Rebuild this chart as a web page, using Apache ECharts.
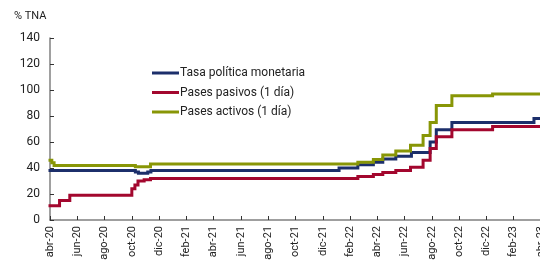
<!DOCTYPE html>
<html>
<head>
<meta charset="utf-8">
<script src="https://cdn.jsdelivr.net/npm/echarts@6/dist/echarts.min.js"></script>
<style>
  html, body { margin: 0; padding: 0; background: #fff; }
  #chart { width: 540px; height: 266px; }
</style>
</head>
<body>
<div id="chart"></div>
<script>
// meses para las etiquetas del eje x (abr-20 ... abr-23)
const meses = ['ene', 'feb', 'mar', 'abr', 'may', 'jun', 'jul', 'ago', 'sep', 'oct', 'nov', 'dic']
const yTicks = [0, 20, 40, 60, 80, 100, 120, 140]

// fechas de cambio de tasa y valor vigente desde esa fecha (% TNA)
const tpmFechas = ['2020-04-01', '2020-10-09', '2020-10-16', '2020-11-06', '2020-11-13',
  '2022-01-07', '2022-02-17', '2022-03-23', '2022-04-13', '2022-05-12', '2022-06-16',
  '2022-07-28', '2022-08-11', '2022-09-15', '2023-03-16', '2023-04-01']
const tpmValores = [38, 37, 36, 37, 38, 40, 42.5, 44.5, 47, 49, 52, 60, 69.5, 75, 78, 78]

const pasivosFechas = ['2020-04-01', '2020-04-22', '2020-05-15', '2020-10-01', '2020-10-08',
  '2020-10-15', '2020-10-29', '2020-11-12', '2022-02-17', '2022-03-23', '2022-04-13',
  '2022-05-12', '2022-06-14', '2022-07-12', '2022-07-28', '2022-08-11', '2022-09-15',
  '2022-12-15', '2023-04-01']
const pasivosValores = [11, 15, 19, 24, 27, 30, 31, 32, 33.5, 35, 36.5, 38, 40.5, 46, 55, 64, 69.5, 72, 72]

const activosFechas = ['2020-04-01', '2020-04-05', '2020-04-10', '2020-10-09', '2020-11-12',
  '2022-02-17', '2022-03-23', '2022-04-13', '2022-05-12', '2022-06-14', '2022-07-12',
  '2022-07-28', '2022-08-11', '2022-09-15', '2022-12-15', '2023-04-01']
const activosValores = [46, 44, 42, 41, 43, 44.5, 46.5, 50, 53, 57.5, 65, 75, 88, 95.5, 97, 97]

// fecha -> meses desde abr-20
function mesesDesde (fecha) {
  let p = fecha.split('-').map(Number)
  let dias = new Date(p[0], p[1], 0).getDate()
  return (p[0] - 2020) * 12 + (p[1] - 4) + (p[2] - 1) / dias
}
// escalones: el valor se mantiene hasta la fecha del cambio siguiente.
// cada tramo va separado con null, si no echarts se saltea los saltos chicos (< 2px)
function serie (fechas, valores) {
  let res = []
  fechas.forEach((f, i) => {
    let x = mesesDesde(f)
    if (i > 0) {
      res.push([x, valores[i - 1]], null, [x, valores[i - 1]], [x, valores[i]], null)
    }
    res.push([x, valores[i]])
  })
  return res
}

let chart = echarts.init(document.getElementById('chart'))
chart.setOption({
  animation: false,
  textStyle: { fontFamily: 'Roboto' },
  color: ['#1c2f6b', '#a3072e', '#889606'],
  grid: { left: 50, right: -1, top: 38, bottom: 46, outerBoundsMode: 'none' },
  graphic: [{
    type: 'text', left: 14, top: 11,
    style: { text: '% TNA', fontSize: 11, fill: '#222', fontFamily: 'Roboto' }
  }],
  legend: {
    orient: 'vertical',
    left: 152,
    top: 67,
    padding: 0,
    itemWidth: 27,
    itemHeight: 3,
    itemGap: 7.5,
    icon: 'rect',
    textStyle: { fontSize: 12, color: '#222', padding: [0, 0, 0, -4] },
    data: ['Tasa política monetaria', 'Pases pasivos (1 día)', 'Pases activos (1 día)']
  },
  xAxis: {
    type: 'value',
    min: 0,
    max: 36,
    interval: 2,
    splitLine: { show: false },
    axisLine: { lineStyle: { color: '#808080', width: 1.5 } },
    axisTick: { inside: true, length: 4, lineStyle: { color: '#333' } },
    axisLabel: {
      rotate: 90,
      fontSize: 11,
      color: '#222',
      margin: 6,
      showMaxLabel: true,
      hideOverlap: false,
      formatter: function (v) {
        let n = 3 + Math.round(v)
        return meses[n % 12] + '-' + (20 + Math.floor(n / 12))
      }
    }
  },
  yAxis: {
    type: 'value',
    min: yTicks[0],
    max: yTicks[yTicks.length - 1],
    interval: 20,
    splitLine: { show: false },
    axisLine: { show: true, lineStyle: { color: '#808080', width: 1.5 } },
    axisTick: { show: true, inside: true, length: 4, lineStyle: { color: '#333' } },
    axisLabel: { fontSize: 12, color: '#222', margin: 10 }
  },
  series: [
    {
      name: 'Tasa política monetaria',
      type: 'line',
      showSymbol: false,
      lineStyle: { width: 3, cap: 'square' },
      data: serie(tpmFechas, tpmValores)
    },
    {
      name: 'Pases pasivos (1 día)',
      type: 'line',
      showSymbol: false,
      lineStyle: { width: 3, cap: 'square' },
      data: serie(pasivosFechas, pasivosValores)
    },
    {
      name: 'Pases activos (1 día)',
      type: 'line',
      showSymbol: false,
      lineStyle: { width: 3, cap: 'square' },
      data: serie(activosFechas, activosValores)
    }
  ]
})
</script>
</body>
</html>
